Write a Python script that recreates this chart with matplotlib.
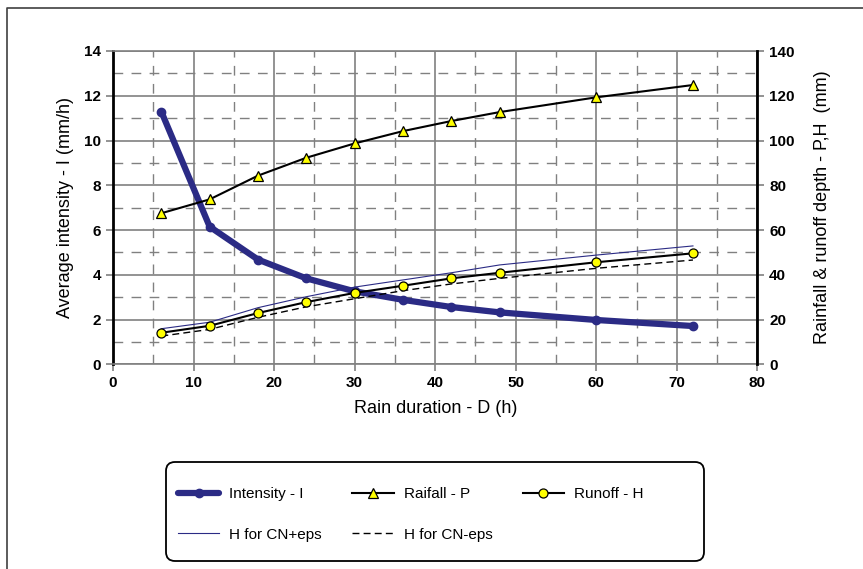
import matplotlib
matplotlib.use('Agg')
import matplotlib.pyplot as plt
from matplotlib.patches import FancyBboxPatch
from matplotlib.lines import Line2D
from matplotlib.ticker import MultipleLocator

plt.rcParams['font.family'] = ['Liberation Sans', 'DejaVu Sans']

duration = [6, 12, 18, 24, 30, 36, 42, 48, 60, 72]
intensity = [11.29, 6.15, 4.68, 3.84, 3.26, 2.88, 2.56, 2.32, 1.98, 1.71]
rainfall = [67.5, 73.7, 84.3, 92.3, 98.7, 104.2, 108.7, 112.7, 119.3, 124.8]
runoff = [14.1, 17.2, 22.9, 27.8, 31.9, 35.1, 38.4, 40.9, 45.6, 49.6]
runoff_cn_plus = [15.9, 18.8, 25.3, 30.2, 34.5, 37.7, 40.9, 44.4, 48.8, 52.9]
runoff_cn_minus = [12.6, 15.6, 21.0, 25.7, 29.3, 32.9, 35.9, 38.4, 42.9, 46.6]

x_ticks = [0, 10, 20, 30, 40, 50, 60, 70, 80]
left_ticks = [0, 2, 4, 6, 8, 10, 12, 14]
right_ticks = [0, 20, 40, 60, 80, 100, 120, 140]

W, H = 863, 569
fig = plt.figure(figsize=(W / 100, H / 100), dpi=100)
ax1 = fig.add_axes([113 / W, 1 - 364.3 / H, 644.4 / W, 313.3 / H])
ax2 = ax1.twinx()

grid_col = '#808080'
navy = '#2B2B85'

# grid
ax1.set_xlim(0, 80)
ax1.set_ylim(0, 14)
ax2.set_ylim(0, 140)
ax1.set_xticks(x_ticks)
ax1.set_yticks(left_ticks)
ax2.set_yticks(right_ticks)
ax1.xaxis.set_minor_locator(MultipleLocator(5))
ax1.yaxis.set_minor_locator(MultipleLocator(1))
ax1.grid(True, which='major', color=grid_col, lw=1.2, ls='-')
ax1.grid(True, which='minor', color=grid_col, lw=1.0, ls=(0, (7, 6)))
ax1.set_axisbelow(True)
ax1.tick_params(which='minor', length=0)
ax1.tick_params(which='major', direction='out', length=5, width=1.2, color=grid_col,
                labelsize=11)
ax2.tick_params(which='major', direction='out', length=5, width=1.2, color=grid_col,
                labelsize=11)
for lab in ax1.get_xticklabels() + ax1.get_yticklabels() + ax2.get_yticklabels():
    lab.set_fontweight('bold')

for s in ['top', 'bottom', 'right']:
    ax1.spines[s].set_color(grid_col)
    ax1.spines[s].set_linewidth(1.2)
ax1.spines['left'].set_color('black')
ax1.spines['left'].set_linewidth(2)
for s in ['top', 'bottom', 'left']:
    ax2.spines[s].set_visible(False)
ax2.spines['right'].set_color('black')
ax2.spines['right'].set_linewidth(2)

# data
l_int, = ax1.plot(duration, intensity, color=navy, lw=4.5, marker='o', ms=6,
                  mfc=navy, mec=navy, label='Intensity - I', solid_capstyle='round')
l_plus, = ax2.plot(duration, runoff_cn_plus, color=navy, lw=0.8, label='H for CN+eps')
l_minus, = ax2.plot(duration, runoff_cn_minus, color='black', lw=1.0, ls=(0, (5, 3)),
                    label='H for CN-eps')
l_rain, = ax2.plot(duration, rainfall, color='black', lw=1.5, marker='^', ms=6.5,
                   mfc='#FFFF00', mec='black', mew=0.9, label='Raifall - P')
l_run, = ax2.plot(duration, runoff, color='black', lw=1.5, marker='o', ms=6.5,
                  mfc='#FFFF00', mec='black', mew=0.9, label='Runoff - H')

ax1.set_xlabel('Rain duration - D (h)', fontsize=13, labelpad=7)
ax1.set_ylabel('Average intensity - I (mm/h)', fontsize=13, labelpad=7)
ax2.set_ylabel('Rainfall & runoff depth - P,H  (mm)', fontsize=13, labelpad=14)

# legend box
box = FancyBboxPatch((166, H - 561), 538, 99, boxstyle='round,pad=0,rounding_size=9',
                     transform=None, fc='white', ec='black', lw=1.3)
fig.add_artist(box)
leg = fig.legend(handles=[l_int, l_plus, l_rain, l_minus, l_run], ncol=3, frameon=False,
                 loc='upper left', bbox_to_anchor=(178 / W, 1 - 487 / H), fontsize=11,
                 handlelength=2.7, handletextpad=0.65, columnspacing=2.0,
                 labelspacing=1.75, borderpad=0, borderaxespad=0)

# outer frame
fig.add_artist(Line2D([6.5 / W, 6.5 / W, 1], [0, 1 - 7.5 / H, 1 - 7.5 / H],
                      transform=fig.transFigure, color='#404040', lw=1.2))

fig.savefig('out.png', dpi=100)
